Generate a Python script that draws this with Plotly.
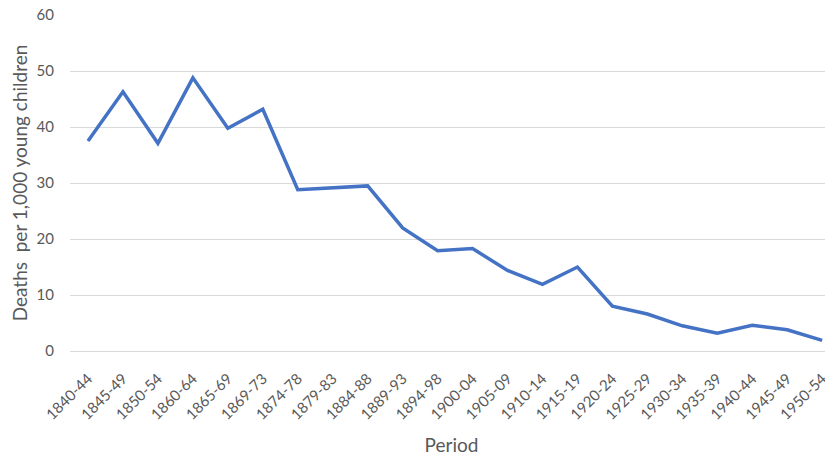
import plotly.graph_objects as go

periods = ["1840-44", "1845-49", "1850-54", "1860-64", "1865-69", "1869-73",
           "1874-78", "1879-83", "1884-88", "1889-93", "1894-98", "1900-04",
           "1905-09", "1910-14", "1915-19", "1920-24", "1925-29", "1930-34",
           "1935-39", "1940-44", "1945-49", "1950-54"]
deaths = [37.5, 46.3, 37.1, 48.8, 39.8, 43.2, 28.8, 29.2, 29.5, 22.0, 17.9,
          18.3, 14.4, 11.9, 15.0, 8.0, 6.6, 4.5, 3.2, 4.6, 3.8, 1.9]
y_ticks = [0, 10, 20, 30, 40, 50, 60]

fig = go.Figure()
fig.add_trace(go.Scatter(
    x=list(range(len(periods))), y=deaths, mode="lines",
    line=dict(color="#4472C4", width=3.5),
    hoverinfo="skip"
))

# page body has an 8px margin, so the figure is a bit smaller than the window
fig.update_layout(
    width=825, height=448,
    margin=dict(l=62, r=0, t=7, b=105),
    paper_bgcolor="white", plot_bgcolor="white",
    font=dict(family="Lato, Liberation Sans, sans-serif", color="#595959"),
    showlegend=False,
)
fig.update_xaxes(
    automargin=False,
    tickmode="array", tickvals=list(range(len(periods))), ticktext=periods,
    range=[-0.515, 21.31], tickangle=-45, showgrid=False, showline=False,
    zeroline=False, ticks="outside", ticklen=12, tickcolor="rgba(0,0,0,0)",
    tickfont=dict(size=15, color="#595959"),
    title=dict(text="Period", font=dict(size=19, color="#595959"), standoff=20),
)
fig.update_yaxes(
    automargin=False,
    range=[0, 60.03], tickvals=y_ticks, showgrid=True, gridcolor="#D9D9D9",
    gridwidth=1, zeroline=True, zerolinecolor="#D9D9D9", zerolinewidth=1,
    ticks="outside", ticklen=12, tickcolor="rgba(0,0,0,0)",
    ticklabeloverflow="allow",
    tickfont=dict(size=15, color="#595959"),
    title=dict(text="Deaths  per 1,000 young children",
               font=dict(size=19, color="#595959"), standoff=8),
)

fig.write_html("out.html")
